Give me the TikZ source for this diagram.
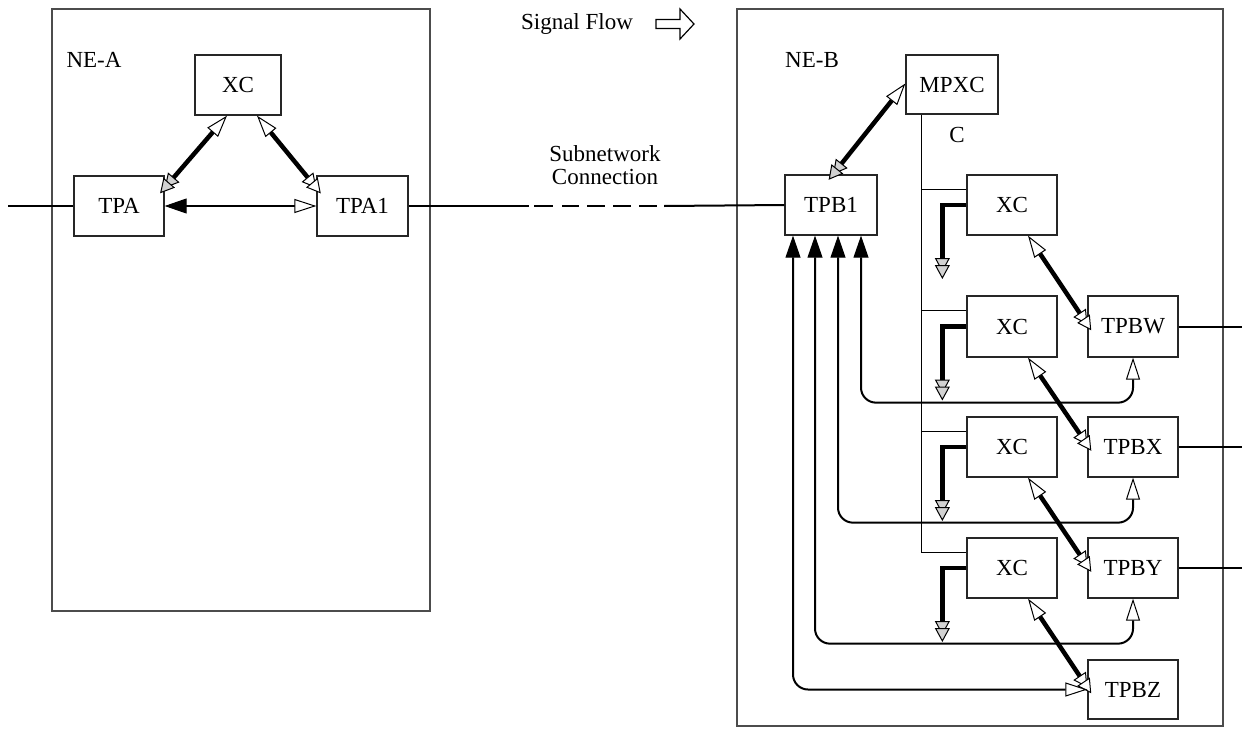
\documentclass[tikz,border=0pt]{standalone}
\usepackage{fontspec}
\setmainfont{Liberation Serif}
\usetikzlibrary{arrows.meta}
\tikzset{
  openT/.tip={Triangle[length=22pt,width=14pt,line width=1pt,fill=white]},
  blkT/.tip={Triangle[length=22pt,width=15pt,line width=1pt]},
  dblG/.tip={Triangle[length=14pt,width=15pt,line width=1pt,fill=gray!35,sep=-7pt]Triangle[length=14pt,width=15pt,line width=1pt,fill=gray!35,sep=-7pt]},
  dblW/.tip={Triangle[length=14pt,width=15pt,line width=1pt,fill=white,sep=-7pt]Triangle[length=14pt,width=15pt,line width=1pt,fill=white,sep=-7pt]},
  box/.style={draw=black!85,line width=1.3pt,minimum width=90pt,minimum height=60pt,inner sep=0pt,font=\fontsize{23}{26}\selectfont},
  ne/.style={draw=black!70,line width=1.3pt,inner sep=0pt},
  lbl/.style={font=\fontsize{23}{26}\selectfont,inner sep=0pt,align=center},
  conn/.style={line width=2pt},
  thin/.style={line width=1.5pt},
  heavy/.style={line width=4.5pt},
}
\begin{document}
\begin{tikzpicture}[x=1pt,y=-1pt]
\useasboundingbox (0,0) rectangle (1244,736);
% containers
\node[ne,minimum width=378pt,minimum height=602pt] (neA) at (241,310) {};
\node[ne,minimum width=486pt,minimum height=717pt] (neB) at (980,367.5) {};
\node[lbl] (neAl) at (94,60) {NE-A};
\node[lbl] (neBl) at (812,60) {NE-B};
\node[lbl] (sig) at (577,24) {Signal Flow};
\node[lbl] (snc) at (605,165) {Subnetwork\\[-3pt]Connection};
\node[lbl] (clab) at (957,135) {C};
% NE-A
\node[box,minimum width=86pt] (xcA) at (238,85) {XC};
\node[box] (tpa) at (119,206) {TPA};
\node[box,minimum width=91pt] (tpa1) at (362.5,206) {TPA1};
% NE-B
\node[box,minimum width=92pt,minimum height=59pt] (mpxc) at (952,84.5) {MPXC};
\node[box,minimum width=92pt] (tpb1) at (831,205) {TPB1};
\node[box] (xc1) at (1012,205) {XC};
\node[box,minimum height=61pt] (xc2) at (1012,326.5) {XC};
\node[box] (xc3) at (1012,447) {XC};
\node[box] (xc4) at (1012,568) {XC};
\node[box,minimum height=61pt] (tpbw) at (1133,326.5) {TPBW};
\node[box] (tpbx) at (1133,447) {TPBX};
\node[box] (tpby) at (1133,568) {TPBY};
\node[box,minimum height=59pt] (tpbz) at (1133,689.5) {TPBZ};
% free ends
\coordinate (inA) at (8,206);
\coordinate (outW) at (1242,326.5);
\coordinate (outX) at (1242,447);
\coordinate (outY) at (1242,568);
\coordinate (dA) at (529,206);
\coordinate (dB) at (534,206);
\coordinate (dC) at (657,206);
\coordinate (dD) at (664,206);
% signal flow arrow
\draw[line width=1.2pt,line join=miter] (656,19.5) -- (680,19.5) -- (680,9) -- (694,24) -- (680,39) -- (680,28.5) -- (656,28.5) -- cycle;
% NE-A connections
\draw[conn] (inA) -- (tpa.west);
\draw[conn,{blkT}-{openT}] (tpa.east) -- (tpa1.west);
\draw[heavy,{openT}-{dblG}] ([xshift=-11pt]xcA.south) -- ([yshift=18pt]tpa.east);
\draw[heavy,{openT}-{dblW}] ([xshift=19pt]xcA.south) -- ([yshift=18pt]tpa1.west);
% subnetwork connection
\draw[conn] (tpa1.east) -- (dA);
\draw[conn,dash pattern=on 19pt off 9pt on 17pt off 8pt on 18pt off 8pt on 18pt off 8pt on 18pt off 50pt] (dB) -- (dC);
\draw[conn] (dD) -- (tpb1.west);
% NE-B
\draw[heavy,{dblG}-{openT}] ([xshift=2pt]tpb1.north) -- ([yshift=1pt]mpxc.west);
\draw[thin] ([xshift=16pt]mpxc.south west) |- ([yshift=-15pt]xc4.north west);
\foreach \n in {xc1,xc2,xc3}{
  \draw[thin] ([yshift=-15pt]\n.north west) -- ++(-45,0);
}
\foreach \n in {xc1,xc2,xc3,xc4}{
  \draw[heavy,-{dblG}] (\n.west) -| ++(-24,67);
}
\draw[heavy,{openT}-{dblW}] ([xshift=16pt]xc1.south) -- ([yshift=2pt]tpbw.west);
\draw[heavy,{openT}-{dblW}] ([xshift=16pt]xc2.south) -- ([yshift=2pt]tpbx.west);
\draw[heavy,{openT}-{dblW}] ([xshift=16pt]xc3.south) -- ([yshift=2pt]tpby.west);
\draw[heavy,{openT}-{dblW}] ([xshift=16pt]xc4.south) -- ([yshift=2pt]tpbz.west);
% TPB1 return paths
\draw[conn,rounded corners=15pt,{blkT}-{openT}] ([xshift=30pt]tpb1.south) |- ([yshift=-45pt]tpbw.south) -- (tpbw.south);
\draw[conn,rounded corners=15pt,{blkT}-{openT}] ([xshift=7pt]tpb1.south) |- ([yshift=-45pt]tpbx.south) -- (tpbx.south);
\draw[conn,rounded corners=15pt,{blkT}-{openT}] ([xshift=-16pt]tpb1.south) |- ([yshift=-45pt]tpby.south) -- (tpby.south);
\draw[conn,rounded corners=15pt,{blkT}-{openT}] ([xshift=-38pt]tpb1.south) |- (tpbz.west);
% outputs
\draw[conn] (tpbw.east) -- (outW);
\draw[conn] (tpbx.east) -- (outX);
\draw[conn] (tpby.east) -- (outY);
\end{tikzpicture}
\end{document}
